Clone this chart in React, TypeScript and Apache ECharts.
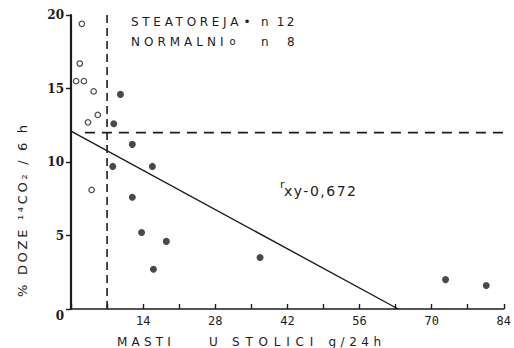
import React, { useEffect, useRef } from "react";
import * as echarts from "echarts";

// ---- data ----
const xTickValues = [0, 14, 28, 42, 56, 70, 84];
const yTickValues = [0, 5, 10, 15, 20];

// NORMALNI (open circles), n = 8
const normalniPoints: [number, number][] = [
  [2.1, 19.4],
  [1.7, 16.7],
  [1.0, 15.5],
  [2.5, 15.5],
  [4.4, 14.8],
  [5.2, 13.2],
  [3.3, 12.7],
  [4.0, 8.1],
];

// STEATOREJA (filled circles), n = 12
const steatorejaPoints: [number, number][] = [
  [9.6, 14.6],
  [8.3, 12.6],
  [11.9, 11.2],
  [8.1, 9.7],
  [15.8, 9.7],
  [11.9, 7.6],
  [13.7, 5.2],
  [18.5, 4.6],
  [16.0, 2.7],
  [36.7, 3.5],
  [72.7, 2.0],
  [80.6, 1.6],
];

const regressionLine: [number, number][] = [
  [0, 12.1],
  [63.5, 0],
];
const verticalCutoff: [number, number][] = [
  [7, 0],
  [7, 20.2],
];
const horizontalCutoff: [number, number][] = [
  [2.7, 12],
  [85, 12],
];

// letter spacing applied to SVG texts (typewriter-like spaced lettering)
const letterSpacing: Record<string, number> = {
  STEATOREJA: 3.7,
  NORMALNI: 4.0,
  "n 12": 2.2,
  "n 8": 7.3,
  MASTI: 4.2,
  STOLICI: 5.8,
  "g/24h": 4.5,
  "xy-0,672": 1.5,
  "% DOZE ¹⁴CO₂ / 6 h": 2.7,
};

const INK = "#1c1c1c";
const SANS = "DejaVu Sans";

export default function App() {
  const ref = useRef<HTMLDivElement>(null);

  useEffect(() => {
    document.body.style.margin = "0";
    const el = ref.current;
    if (!el) return;
    const chart = echarts.init(el, undefined, { renderer: "svg" });

    const txt = (
      text: string,
      x: number,
      y: number,
      fontSize: number,
      extra: Record<string, unknown> = {}
    ) => ({
      type: "text",
      x,
      y,
      silent: true,
      ...extra,
      style: {
        text,
        fill: INK,
        fontFamily: SANS,
        fontSize,
        textAlign: "left",
        textVerticalAlign: "middle",
      },
    });

    const option: echarts.EChartsOption = {
      animation: false,
      backgroundColor: "#ffffff",
      grid: { left: 71, right: 6, top: 15, bottom: 39, containLabel: false },
      xAxis: {
        type: "value",
        min: xTickValues[0],
        max: xTickValues[xTickValues.length - 1],
        interval: 7,
        axisLine: { show: true, lineStyle: { color: INK, width: 1.6 } },
        axisTick: { show: true, inside: true, length: 5, lineStyle: { color: INK, width: 1.4 } },
        splitLine: { show: false },
        axisLabel: {
          margin: 6,
          color: INK,
          fontFamily: "DejaVu Sans Mono",
          fontSize: 12,
          formatter: (v: number) =>
            xTickValues.includes(v) && v !== 0 ? String(v) : "",
        },
      },
      yAxis: {
        type: "value",
        min: yTickValues[0],
        max: yTickValues[yTickValues.length - 1],
        interval: 5,
        axisLine: { show: true, lineStyle: { color: INK, width: 2.2 } },
        axisTick: { show: true, inside: false, length: 5, lineStyle: { color: INK, width: 1.4 } },
        splitLine: { show: false },
        axisLabel: {
          margin: 7,
          color: INK,
          fontFamily: "DejaVu Serif",
          fontWeight: "bold",
          fontSize: 12,
          formatter: (v: number) => (v === 0 ? "{z|0}" : String(v)),
          rich: {
            z: {
              padding: [14, 0, 0, 0],
              color: INK,
              fontFamily: "DejaVu Serif",
              fontWeight: "bold",
              fontSize: 12,
            },
          },
        },
      },
      series: [
        {
          type: "line",
          data: verticalCutoff,
          symbol: "none",
          clip: false,
          silent: true,
          lineStyle: { color: INK, width: 1.6, type: [8, 5] },
        },
        {
          type: "line",
          data: horizontalCutoff,
          symbol: "none",
          clip: false,
          silent: true,
          lineStyle: { color: INK, width: 1.6, type: [10, 7] },
        },
        {
          type: "line",
          data: regressionLine,
          symbol: "none",
          silent: true,
          lineStyle: { color: INK, width: 1.4 },
        },
        {
          name: "NORMALNI",
          type: "scatter",
          data: normalniPoints,
          symbol: "circle",
          symbolSize: 5.5,
          itemStyle: { color: "#ffffff", borderColor: INK, borderWidth: 1.2 },
        },
        {
          name: "STEATOREJA",
          type: "scatter",
          data: steatorejaPoints,
          symbol: "circle",
          symbolSize: 7,
          itemStyle: { color: INK },
        },
      ],
      graphic: [
        // legend block
        txt("STEATOREJA", 131, 22, 12),
        txt("•", 243.5, 22, 12),
        txt("n 12", 261, 22, 12),
        txt("NORMALNI", 131, 42, 12),
        txt("o", 229.5, 41, 10),
        txt("n 8", 261, 42, 12),
        // correlation coefficient
        txt("r", 280, 184, 11),
        txt("xy-0,672", 284, 191, 14),
        // x axis title
        txt("MASTI", 117, 342, 12),
        txt("U", 209, 342, 12),
        txt("STOLICI", 232, 342, 12),
        txt("g/24h", 328.5, 342, 12),
        // y axis title (rotated, reading bottom to top)
        txt("% DOZE ¹⁴CO₂ / 6 h", 22, 297, 13, { rotation: Math.PI / 2 }),
      ] as any,
    };

    const applySpacing = () => {
      el.querySelectorAll("text").forEach((t) => {
        const s = letterSpacing[(t.textContent || "").trim()];
        if (s !== undefined) t.setAttribute("letter-spacing", String(s));
      });
    };

    chart.setOption(option);
    applySpacing();
    chart.on("finished", applySpacing);
    chart.on("rendered", applySpacing);

    return () => {
      chart.dispose();
    };
  }, []);

  return <div ref={ref} style={{ width: 514, height: 348 }} />;
}
